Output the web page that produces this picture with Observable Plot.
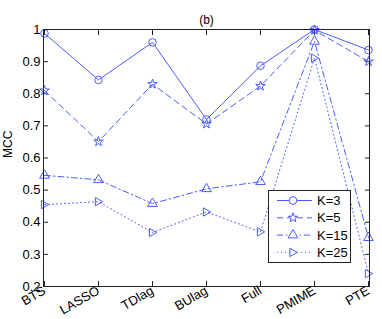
<!DOCTYPE html>
<html>
<head>
<meta charset="utf-8">
<script src="https://cdn.jsdelivr.net/npm/d3@7"></script>
<script src="https://cdn.jsdelivr.net/npm/@observablehq/plot@0.6"></script>
<style>
  html, body { margin: 0; padding: 0; background: #fff; }
  #wrap { position: relative; width: 382px; height: 319px; font-family: "Liberation Sans", Arial, sans-serif; }
  #legend { position: absolute; left: 268px; top: 190px; }
</style>
</head>
<body>
<div id="wrap"></div>
<script>
const categories = ["BTS", "LASSO", "TDlag", "BUlag", "Full", "PMIME", "PTE"];
const k3  = [0.988, 0.843, 0.960, 0.720, 0.887, 1.000, 0.936];
const k5  = [0.810, 0.651, 0.830, 0.706, 0.824, 0.998, 0.900];
const k15 = [0.546, 0.532, 0.458, 0.504, 0.526, 0.963, 0.352];
const k25 = [0.455, 0.464, 0.368, 0.432, 0.370, 0.911, 0.240];
const yTicks = [0.2, 0.3, 0.4, 0.5, 0.6, 0.7, 0.8, 0.9, 1];
const seriesNames = ["K=3", "K=5", "K=15", "K=25"];

const blue = "#4a5cff";
const rightTriangle = {
  draw(ctx, size) {
    const s = Math.sqrt(size) * 0.62;
    ctx.moveTo(s, 0);
    ctx.lineTo(-s * 0.75, -s);
    ctx.lineTo(-s * 0.75, s);
    ctx.closePath();
  }
};
const styles = [
  {dash: null, symbol: "circle", r: 3.8},
  {dash: "6,4", symbol: "star", r: 3.0},
  {dash: "6,3,1.5,3", symbol: "triangle", r: 3.6},
  {dash: "1,3", symbol: rightTriangle, r: 3.8}
];
const allSeries = [k3, k5, k15, k25];
const rows = allSeries.map(vals => categories.map((c, i) => ({cat: c, v: vals[i]})));

const marks = [];
rows.forEach((data, i) => {
  marks.push(Plot.line(data, {x: "cat", y: "v", stroke: blue, strokeWidth: 1, strokeDasharray: styles[i].dash}));
  marks.push(Plot.dot(data, {x: "cat", y: "v", stroke: blue, strokeWidth: 1, fill: "none", symbol: styles[i].symbol, r: styles[i].r}));
});

const chart = Plot.plot({
  width: 382,
  height: 319,
  marginLeft: 43,
  marginRight: 13,
  marginTop: 29,
  marginBottom: 33,
  style: {fontFamily: "Liberation Sans, Arial, sans-serif", fontSize: "12px", color: "#000", background: "#fff"},
  x: {type: "point", domain: categories, padding: 0},
  y: {domain: [0.2, 1]},
  marks: [
    Plot.axisY({ticks: yTicks, tickSize: -5, tickPadding: 8, tickFormat: d => String(+d.toFixed(1)), fontSize: 13, label: null, stroke: "#222"}),
    Plot.axisY({anchor: "right", ticks: yTicks, tickSize: -5, tickFormat: () => "", label: null, stroke: "#222"}),
    Plot.axisX({ticks: categories, tickSize: -5, tickPadding: 8, tickRotate: -30, fontSize: 13, label: null, stroke: "#222"}),
    Plot.axisX({anchor: "top", ticks: categories, tickSize: -5, tickFormat: () => "", label: null, stroke: "#222"}),
    ...marks,
    Plot.frame({stroke: "#222"}),
    Plot.text(["(b)"], {frameAnchor: "top", dy: -14, fontSize: 12}),
    Plot.text(["MCC"], {frameAnchor: "left", dx: -35, rotate: -90, fontSize: 12})
  ]
});
document.getElementById("wrap").appendChild(chart);

// legend
const lw = 83, lh = 73;
const leg = d3.select("#wrap").append("svg").attr("id", "legend").attr("width", lw).attr("height", lh);
leg.append("rect").attr("x", 0.5).attr("y", 0.5).attr("width", lw - 1).attr("height", lh - 1).attr("fill", "#fff").attr("stroke", "#222");
seriesNames.forEach((name, i) => {
  const y = 10.5 + i * 17.3;
  const g = leg.append("g");
  g.append("line").attr("x1", 9).attr("x2", 44).attr("y1", y).attr("y2", y).attr("stroke", blue).attr("stroke-width", 1)
    .attr("stroke-dasharray", styles[i].dash);
  const sym = typeof styles[i].symbol === "string" ? ({circle: d3.symbolCircle, star: d3.symbolStar, triangle: d3.symbolTriangle})[styles[i].symbol] : styles[i].symbol;
  g.append("path").attr("d", d3.symbol(sym, Math.PI * styles[i].r * styles[i].r)()).attr("transform", `translate(25,${y})`)
    .attr("fill", "#fff").attr("stroke", blue).attr("stroke-width", 1);
  g.append("text").attr("x", 49).attr("y", y).attr("dy", "0.36em").attr("font-size", 13).attr("font-family", "Liberation Sans, Arial, sans-serif").text(name);
});
</script>
</body>
</html>
